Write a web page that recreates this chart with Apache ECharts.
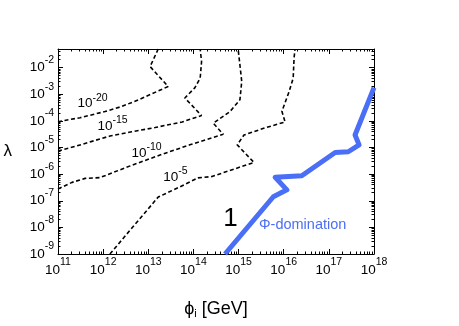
<!DOCTYPE html>
<html>
<head>
<meta charset="utf-8">
<script src="https://cdn.jsdelivr.net/npm/echarts@6/dist/echarts.min.js"></script>
<style>
  html, body { margin: 0; padding: 0; background: #fff; }
  #main { width: 459px; height: 326px; }
</style>
</head>
<body>
<div id="main"></div>
<script>
// all values are log10 of phi_i [GeV] and lambda
const xMajor = [11, 12, 13, 14, 15, 16, 17, 18]
const yMajor = [-9, -8, -7, -6, -5, -4, -3, -2]
const xRange = [11, 18]
const yRange = [-9, -1.3]

// contour 10^-20
const c20Phi = [11.0, 11.49, 12.04, 12.41, 12.78, 13.44, 13.04, 13.22]
const c20Lam = [-4.03, -3.88, -3.65, -3.46, -3.21, -2.71, -1.96, -1.3]
// contour 10^-15
const c15Phi = [11.0, 11.38, 11.75, 12.15, 12.6, 13.15, 13.75, 14.18, 13.81, 14.03, 14.15, 14.18, 14.15]
const c15Lam = [-5.13, -4.96, -4.77, -4.57, -4.42, -4.25, -4.04, -3.8, -3.14, -2.76, -2.39, -1.78, -1.3]
// contour 10^-10
const c10Phi = [11.0, 11.31, 11.6, 11.93, 12.6, 13.33, 13.92, 14.66, 14.44, 14.81, 15.03, 15.07, 15.03, 14.99]
const c10Lam = [-6.56, -6.31, -6.16, -6.13, -5.69, -5.24, -4.9, -4.5, -4.09, -3.65, -3.21, -2.52, -1.9, -1.3]
// contour 10^-5
const c5Phi = [12.15, 13.22, 13.7, 14.1, 14.41, 15.34, 14.97, 15.12, 15.59, 16.03, 15.96, 16.12, 16.21, 16.23, 16.25]
const c5Lam = [-9.0, -6.86, -6.48, -6.14, -6.09, -5.56, -4.9, -4.53, -4.26, -4.04, -3.64, -2.9, -2.39, -1.63, -1.3]
// Phi-domination boundary
const domPhi = [14.7, 15.77, 16.07, 15.81, 16.4, 17.14, 17.43, 17.67, 17.58, 18.0]
const domLam = [-9.0, -6.85, -6.59, -6.12, -6.06, -5.19, -5.16, -4.9, -4.53, -2.75]

// contour labels (exponent, phi, lambda)
const contourExp = ['-20', '-15', '-10', '-5']
const contourLabPhi = [11.764, 12.207, 12.961, 13.603]
const contourLabLam = [-3.356, -4.186, -5.204, -6.106]
const oneLab = [14.82, -7.68]
const domLab = [16.42, -7.91]

const font = "'Liberation Sans', Arial, sans-serif"
const blue = '#4a6ef6'

const minorTicks = (lo, hi) => {
  const out = []
  for (let n = Math.floor(lo); n < hi; n++) {
    for (let k = 2; k <= 9; k++) {
      const v = n + Math.log10(k)
      if (v > lo && v < hi) out.push(v)
    }
  }
  return out
}
const xMinor = minorTicks(xRange[0], xRange[1])
const yMinor = minorTicks(yRange[0], yRange[1])

const zip = (a, b) => a.map((v, i) => [v, b[i]])

const tickRich = {
  b: { fontSize: 13.5, fontFamily: font, color: '#000' },
  s: { fontSize: 10.5, fontFamily: font, color: '#000', padding: [0, 0, 15, 0] }
}
const powLabel = v => '{b|10}{s|' + v + '}'

const makeAxis = (dim, pos, major, minor, isMajor, range, withLabel) => {
  const ax = {
    type: 'value',
    position: pos,
    min: range[0],
    max: range[1],
    interval: 1,
    splitLine: { show: false },
    axisLine: { show: isMajor, onZero: false, lineStyle: { color: '#000', width: 1 } },
    axisTick: {
      show: true,
      inside: true,
      length: isMajor ? 5 : 2.5,
      customValues: isMajor ? major : minor,
      lineStyle: { color: '#000', width: 1 }
    },
    axisLabel: { show: false }
  }
  if (withLabel) {
    ax.axisLabel = {
      show: true,
      customValues: major,
      margin: dim === 'x' ? 3 : 4,
      formatter: powLabel,
      rich: tickRich
    }
  }
  return ax
}

const xAxes = [
  makeAxis('x', 'bottom', xMajor, xMinor, true, xRange, true),
  makeAxis('x', 'bottom', xMajor, xMinor, false, xRange, false),
  makeAxis('x', 'top', xMajor, xMinor, true, xRange, false),
  makeAxis('x', 'top', xMajor, xMinor, false, xRange, false)
]
Object.assign(xAxes[0], {
  name: '{n|\u03d5}{i|i}{n| [GeV]}',
  nameLocation: 'middle',
  nameGap: 45,
  nameTextStyle: {
    rich: {
      n: { fontSize: 18, fontFamily: font, color: '#000' },
      i: { fontSize: 11, fontFamily: font, color: '#000', padding: [9, 0, 0, 0] }
    }
  }
})

const yAxes = [
  makeAxis('y', 'left', yMajor, yMinor, true, yRange, true),
  makeAxis('y', 'left', yMajor, yMinor, false, yRange, false),
  makeAxis('y', 'right', yMajor, yMinor, true, yRange, false),
  makeAxis('y', 'right', yMajor, yMinor, false, yRange, false)
]
Object.assign(yAxes[0], {
  name: '\u03bb',
  nameLocation: 'middle',
  nameRotate: 0,
  nameGap: 46,
  nameTextStyle: { fontSize: 17, fontFamily: font, color: '#000' }
})

const dashed = (phi, lam) => ({
  type: 'line',
  data: zip(phi, lam),
  showSymbol: false,
  symbol: 'none',
  silent: true,
  lineStyle: { color: '#000', width: 1.6, type: [4, 2.6] },
  z: 3
})

const chart = echarts.init(document.getElementById('main'))
chart.setOption({
  animation: false,
  backgroundColor: '#fff',
  grid: { left: 58, right: 85, top: 49, bottom: 72 },
  xAxis: xAxes,
  yAxis: yAxes,
  series: [
    dashed(c20Phi, c20Lam),
    dashed(c15Phi, c15Lam),
    dashed(c10Phi, c10Lam),
    dashed(c5Phi, c5Lam),
    {
      type: 'line',
      data: zip(domPhi, domLam),
      showSymbol: false,
      symbol: 'none',
      silent: true,
      lineStyle: { color: blue, width: 5, join: 'round' },
      z: 4
    },
    {
      type: 'scatter',
      symbolSize: 0,
      silent: true,
      itemStyle: { opacity: 1 },
      data: contourExp.map((e, i) => ({ value: [contourLabPhi[i], contourLabLam[i]], name: e })),
      label: {
        show: true,
        position: 'inside',
        formatter: p => '{b|10}{s|' + p.name + '}',
        rich: {
          b: { fontSize: 13.5, fontFamily: font, color: '#000' },
          s: { fontSize: 10.5, fontFamily: font, color: '#000', padding: [0, 0, 11, 0] }
        }
      },
      z: 5
    },
    {
      type: 'scatter',
      symbolSize: 0,
      silent: true,
      itemStyle: { opacity: 1 },
      data: [
        { value: oneLab, name: '1', label: { fontSize: 26, color: '#000' } },
        { value: domLab, name: '\u03a6-domination', label: { fontSize: 14.5, color: blue } }
      ],
      label: {
        show: true,
        position: 'inside',
        fontFamily: font,
        formatter: p => p.name
      },
      z: 5
    }
  ]
})
</script>
</body>
</html>
